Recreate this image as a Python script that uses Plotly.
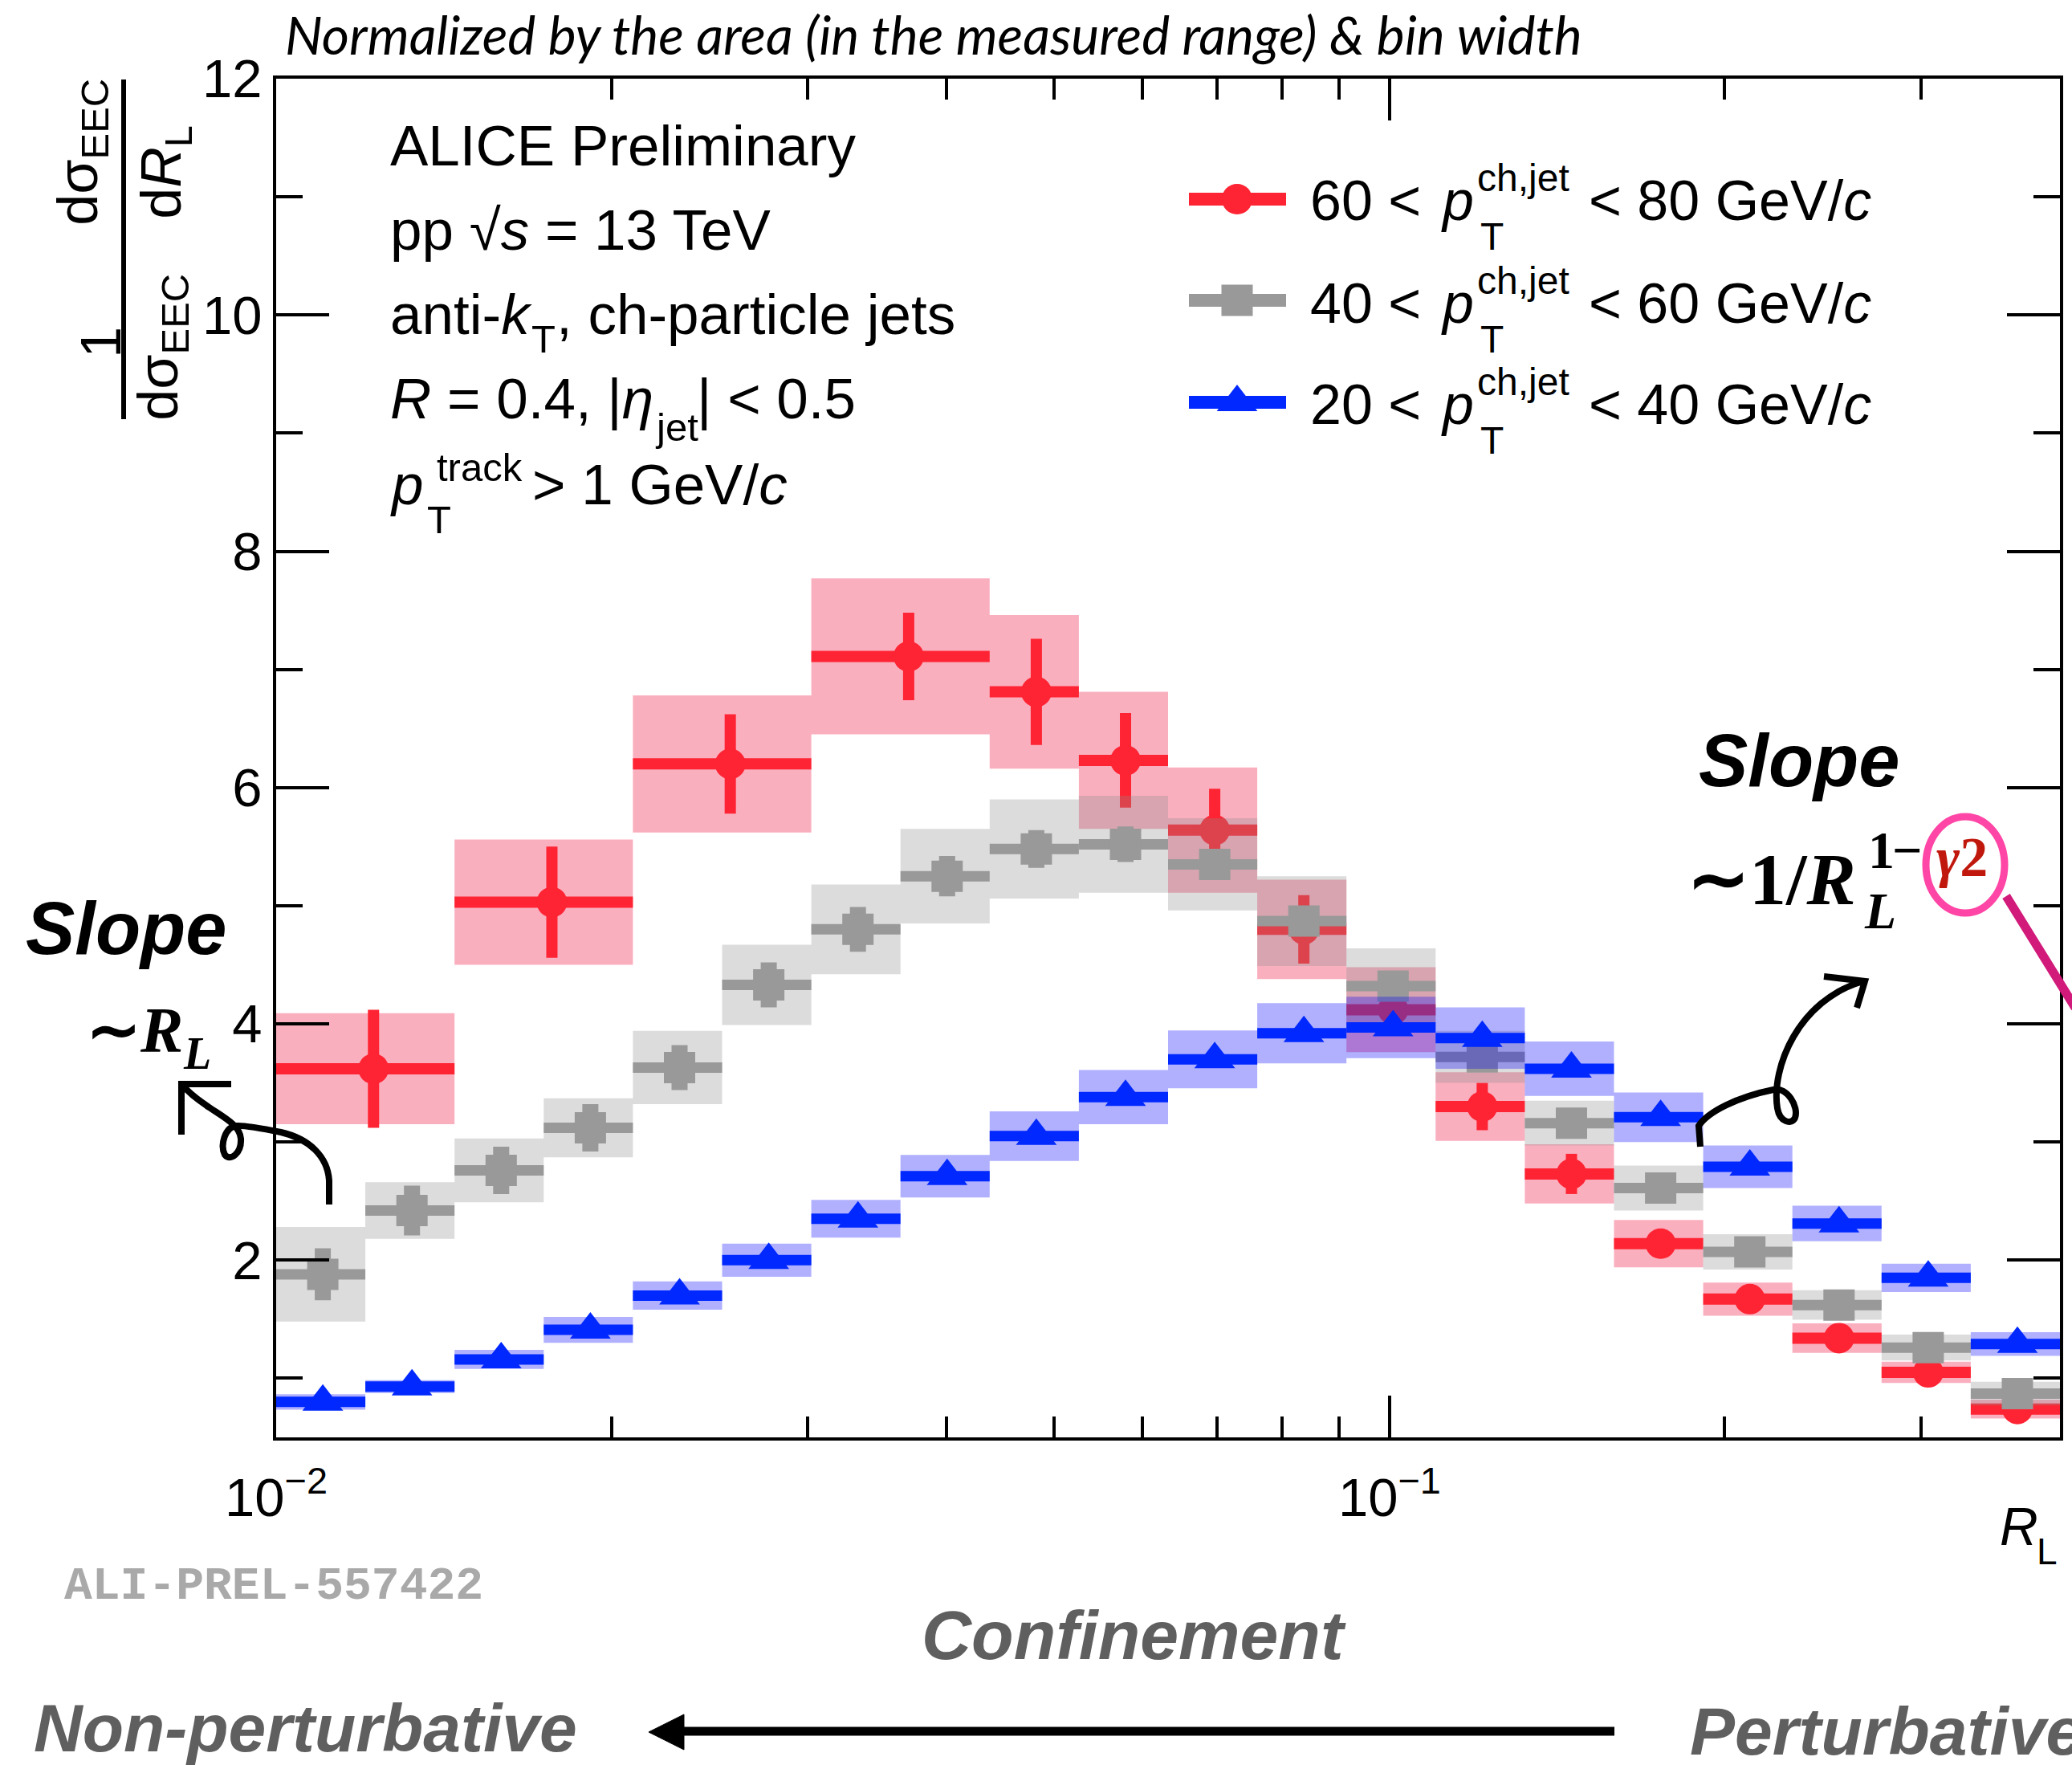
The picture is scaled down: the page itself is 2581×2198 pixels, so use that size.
import plotly.graph_objects as go

# ---------------- data ----------------
# R_L bin edges (20 logarithmic bins)
bin_edges = [0.01, 0.012025, 0.014461, 0.017390, 0.020912, 0.025149, 0.030243,
             0.036368, 0.043734, 0.052592, 0.063246, 0.076055, 0.091460, 0.10998,
             0.13226, 0.15905, 0.19127, 0.23001, 0.27660, 0.33262, 0.4]
# the 60-80 GeV/c series uses merged bins at small R_L
red_edges = bin_edges[0:9:2] + bin_edges[9:]

red_val = [3.62, 5.03, 6.20, 7.11, 6.81, 6.23, 5.64, 4.80, 4.12, 3.30, 2.73, 2.14, 1.67, 1.34, 1.05, 0.74]
red_stat = [0.50, 0.47, 0.42, 0.37, 0.45, 0.40, 0.35, 0.29, 0.10, 0.20, 0.17, 0.08, 0.07, 0.06, 0.05, 0.04]
red_sys = [0.47, 0.53, 0.58, 0.66, 0.65, 0.58, 0.53, 0.42, 0.36, 0.29, 0.25, 0.20, 0.14, 0.125, 0.09, 0.08]

gray_val = [1.88, 2.42, 2.76, 3.12, 3.63, 4.33, 4.80, 5.25, 5.48, 5.52, 5.35, 4.87, 4.32, 3.72, 3.16, 2.61, 2.07, 1.62, 1.26, 0.87]
gray_stat = [0.22, 0.21, 0.20, 0.20, 0.19, 0.19, 0.19, 0.17, 0.16, 0.15, 0.12, 0.10, 0.08, 0.07, 0.06, 0.05, 0.04, 0.04, 0.03, 0.03]
gray_sys = [0.40, 0.24, 0.27, 0.25, 0.31, 0.34, 0.38, 0.40, 0.42, 0.41, 0.39, 0.38, 0.32, 0.22, 0.19, 0.19, 0.15, 0.125, 0.11, 0.10]

blue_val = [0.80, 0.93, 1.16, 1.41, 1.70, 2.00, 2.35, 2.71, 3.05, 3.38, 3.70, 3.92, 3.97, 3.88, 3.62, 3.21, 2.79, 2.31, 1.85, 1.29]
blue_stat = [0.02, 0.02, 0.02, 0.03, 0.03, 0.03, 0.04, 0.04, 0.04, 0.05, 0.05, 0.05, 0.05, 0.05, 0.05, 0.05, 0.04, 0.04, 0.04, 0.04]
blue_sys = [0.065, 0.055, 0.08, 0.11, 0.12, 0.14, 0.16, 0.18, 0.21, 0.23, 0.245, 0.255, 0.26, 0.26, 0.23, 0.21, 0.18, 0.15, 0.12, 0.10]

legend_ranges = [("60", "80"), ("40", "60"), ("20", "40")]
x_major_ticks = [0.01, 0.1]
x_major_text = ["10<sup>\u22122</sup>", "10<sup>\u22121</sup>"]
x_minor_ticks = [0.02, 0.03, 0.04, 0.05, 0.06, 0.07, 0.08, 0.09, 0.2, 0.3]

# ---------------- geometry / style ----------------
W, H = 2581, 2198
L, R, T, B = 344, 2566, 98, 1790
PW, PH = R - L, B - T

RED, GRAY, BLUE = "#ff2433", "#999999", "#0028ff"
RED_BOX, GRAY_BOX, BLUE_BOX = "rgba(242,54,96,0.40)", "rgba(140,140,140,0.30)", "rgba(0,0,255,0.31)"
SANS, SERIF, MONO = "Liberation Sans", "Liberation Serif", "Liberation Mono"
ASC = {SANS: 0.905, SERIF: 0.891, MONO: 0.833, "Lato": 0.987}


def px(x):
    return (x - L) / PW


def py(y):
    return (B - y) / PH


fig = go.Figure()


def add_series(edges, val, stat, sys, col, boxcol, symbol, msize, thick_x, thick_y):
    lo, hi = edges[:-1], edges[1:]
    xs, ys = [], []
    for a, b, v, s in zip(lo, hi, val, sys):
        xs += [a, b, b, a, a, None]
        ys += [v - s, v - s, v + s, v + s, v - s, None]
    fig.add_trace(go.Scatter(x=xs, y=ys, mode="lines", fill="toself", fillcolor=boxcol,
                             line=dict(width=0), hoverinfo="skip"))
    xc = [(a + b) / 2 for a, b in zip(lo, hi)]
    fig.add_trace(go.Scatter(
        x=xc, y=val, mode="markers",
        marker=dict(symbol=symbol, size=msize, color=col, line=dict(width=0)),
        error_x=dict(type="data", symmetric=False, array=[b - c for b, c in zip(hi, xc)],
                     arrayminus=[c - a for a, c in zip(lo, xc)], thickness=thick_x, width=0, color=col),
        error_y=dict(type="data", array=stat, thickness=thick_y, width=0, color=col),
    ))


add_series(red_edges, red_val, red_stat, red_sys, RED, RED_BOX, "circle", 38, 14, 14)
add_series(bin_edges, gray_val, gray_stat, gray_sys, GRAY, GRAY_BOX, "square", 39, 13, 20)
add_series(bin_edges, blue_val, blue_stat, blue_sys, BLUE, BLUE_BOX, "triangle-up", 44, 13, 13)

# ---------------- legend keys (overlay pixel axes) ----------------
leg_y = [248, 374, 501]
leg_style = [(RED, "circle", 38), (GRAY, "square", 39), (BLUE, "triangle-up", 44)]
for yv, (col, sym, sz) in zip(leg_y, leg_style):
    fig.add_trace(go.Scatter(x=[1481, 1602], y=[yv, yv], mode="lines", line=dict(color=col, width=16),
                             xaxis="x2", yaxis="y2", hoverinfo="skip"))
    fig.add_trace(go.Scatter(x=[1541], y=[yv], mode="markers",
                             marker=dict(symbol=sym, size=sz, color=col, line=dict(width=0)),
                             xaxis="x2", yaxis="y2", hoverinfo="skip"))

annotations = []


def text(x, baseline, s, size, family=SANS, color="black", xanchor="left"):
    annotations.append(dict(
        x=px(x), y=py(baseline - ASC[family] * size), xref="paper", yref="paper",
        text=s, showarrow=False, xanchor=xanchor, yanchor="top", borderpad=0,
        font=dict(family=family, size=size, color=color)))


def vtext(baseline_x, yc, s, size, family=SANS):
    annotations.append(dict(
        x=px(baseline_x - ASC[family] * size), y=py(yc), xref="paper", yref="paper",
        text=s, showarrow=False, xanchor="left", yanchor="middle", textangle=-90, borderpad=0,
        font=dict(family=family, size=size, color="black")))


# title
text(354, 67, "<i>Normalized by the area (in the measured range) &amp; bin width</i>", 66, family="Lato")

# ALICE block
FS = 71
text(485, 205, "ALICE Preliminary", FS)
text(485, 310, "pp \u221a<i>s</i> = 13 TeV", FS)
text(485, 415, "anti-<i>k</i>", FS)
text(661, 438, "T", 49)
text(692, 415, ", ch-particle jets", FS)
text(485, 520, "<i>R</i> = 0.4, |<i>\u03b7</i>", FS)
text(815, 548, "jet", 49)
text(867, 520, "| &lt; 0.5", FS)
text(485, 627, "<i>p</i>", FS)
text(543, 598, "track", 49)
text(531, 663, "T", 49)
text(662, 627, "&gt; 1 GeV/<i>c</i>", FS)

# legend text
LF = 70
for (a, b), yb in zip(legend_ranges, [273, 401, 527]):
    text(1631, yb, f"{a} &lt;", LF)
    text(1794, yb, "<i>p</i>", LF)
    text(1839, yb - 36, "ch,jet", 48)
    text(1843, yb + 37, "T", 48)
    text(1978, yb, f"&lt; {b} GeV/<i>c</i>", LF)

# y-axis title (rotated fraction)
YF = 70
vtext(120, 189, "d\u03c3<sub>EEC</sub>", YF)
vtext(224, 214, "d<i>R</i><sub>L</sub>", YF)
vtext(149, 426, "1", YF)
vtext(220, 432, "d\u03c3<sub>EEC</sub>", YF)

# x-axis title
text(2490, 1923, "<i>R</i>", 66)
text(2536, 1947, "L", 46)

# slope annotations
text(31, 1187, "<b><i>Slope</i></b>", 92)
text(107, 1309, "<b>\u223c<i>R</i></b>", 80, family=SERIF)
text(227, 1330, "<b><i>L</i></b>", 56, family=SERIF)
text(2115, 978, "<b><i>Slope</i></b>", 92)
text(2313, 1125, "<b>\u223c1/<i>R</i></b>", 92, family=SERIF, xanchor="right")
text(2326, 1080, "<b>1</b>", 66, family=SERIF)
text(2356, 1080, "<b>\u2212</b>", 66, family=SERIF)
text(2411, 1090, "<b><i>\u03b3</i>2</b>", 70, family=SERIF, color="#c0180c")
text(2321, 1155, "<b><i>L</i></b>", 64, family=SERIF)

# bottom texts
text(79, 1990, "<b>ALI-PREL-557422</b>", 58, family=MONO, color="#a9a9a9")
text(1147, 2065, "<b><i>Confinement</i></b>", 86, color="#5f5f5f")
text(41, 2180, "<b><i>Non-perturbative</i></b>", 84, color="#5f5f5f")
text(2104, 2184, "<b><i>Perturbative</i></b>", 84, color="#5f5f5f")


def path(points):
    return "M " + " L ".join(f"{px(x):.5f},{py(y):.5f}" for x, y in points)


def cpath(start, segs):
    s = f"M {px(start[0]):.5f},{py(start[1]):.5f}"
    for seg in segs:
        if len(seg) == 1:
            s += f" L {px(seg[0][0]):.5f},{py(seg[0][1]):.5f}"
        else:
            s += " C " + " ".join(f"{px(x):.5f},{py(y):.5f}" for x, y in seg)
    return s


shapes = []
blk = dict(color="black", width=8)
# fraction bar of y title
shapes.append(dict(type="line", xref="paper", yref="paper", x0=px(154), x1=px(154), y0=py(99), y1=py(522),
                   line=dict(color="black", width=6)))
# left hand-drawn arrow
shapes.append(dict(type="path", xref="paper", yref="paper", line=blk, path=cpath(
    (410, 1500), [[(410, 1470)], [(408, 1440), (385, 1418), (350, 1410)],
                  [(320, 1404), (302, 1401), (294, 1402)], [(280, 1404), (274, 1426), (280, 1438)],
                  [(287, 1447), (301, 1436), (300, 1418)], [(299, 1402), (280, 1392), (262, 1380)],
                  [(250, 1372), (236, 1362), (228, 1352)]])))
shapes.append(dict(type="path", xref="paper", yref="paper", line=blk,
                   path=path([(288, 1350), (226, 1350), (226, 1413)])))
# right hand-drawn arrow
shapes.append(dict(type="path", xref="paper", yref="paper", line=blk, path=cpath(
    (2118, 1428), [[(2116, 1402)], [(2128, 1384), (2165, 1366), (2209, 1357)],
                   [(2226, 1353), (2241, 1378), (2236, 1392)], [(2232, 1401), (2217, 1398), (2214, 1380)],
                   [(2206, 1330), (2240, 1245), (2321, 1222)]])))
shapes.append(dict(type="path", xref="paper", yref="paper", line=blk,
                   path=path([(2272, 1216), (2323, 1222), (2313, 1255)])))
# pink circle + line
shapes.append(dict(type="circle", xref="paper", yref="paper", x0=px(2399), x1=px(2497), y0=py(1137), y1=py(1017),
                   line=dict(color="#ff45a5", width=9)))
shapes.append(dict(type="line", xref="paper", yref="paper", x0=px(2499), y0=py(1116), x1=px(2585), y1=py(1255),
                   line=dict(color="#d11a7a", width=11)))
# bottom arrow
shapes.append(dict(type="line", xref="paper", yref="paper", x0=px(2011), y0=py(2156), x1=px(845), y1=py(2156),
                   line=dict(color="black", width=11)))
shapes.append(dict(type="path", xref="paper", yref="paper", fillcolor="black", line=dict(color="black", width=1),
                   path=path([(808, 2157), (852, 2135), (852, 2179)]) + " Z"))

axis_common = dict(showline=True, linecolor="black", linewidth=4, mirror="allticks", ticks="inside",
                   tickcolor="black", tickwidth=4, showgrid=False, zeroline=False,
                   tickfont=dict(family=SANS, size=67, color="black"))

fig.update_layout(
    width=W, height=H, autosize=False,
    margin=dict(l=L, r=W - R, t=T, b=H - B, pad=0),
    paper_bgcolor="white", plot_bgcolor="white", showlegend=False,
    xaxis=dict(type="log", range=[-2, -0.39794], tickmode="array", tickvals=x_major_ticks,
               ticktext=x_major_text, ticklen=52, ticklabelstandoff=14,
               minor=dict(tickmode="array", tickvals=x_minor_ticks, ticks="inside", ticklen=26,
                          tickwidth=4, tickcolor="black", showgrid=False),
               **axis_common),
    yaxis=dict(range=[0.5, 12], tickmode="linear", tick0=0, dtick=2, ticklen=66, ticklabelstandoff=0,
               minor=dict(tick0=0, dtick=1, ticks="inside", ticklen=33, tickwidth=4, tickcolor="black",
                          showgrid=False),
               **axis_common),
    xaxis2=dict(overlaying="x", range=[L, R], visible=False),
    yaxis2=dict(overlaying="y", range=[B, T], visible=False),
    annotations=annotations,
    shapes=shapes,
)

fig.write_html("out.html", config={"displayModeBar": False},
               post_script="document.body.style.margin='0';document.body.style.overflow='hidden';")
